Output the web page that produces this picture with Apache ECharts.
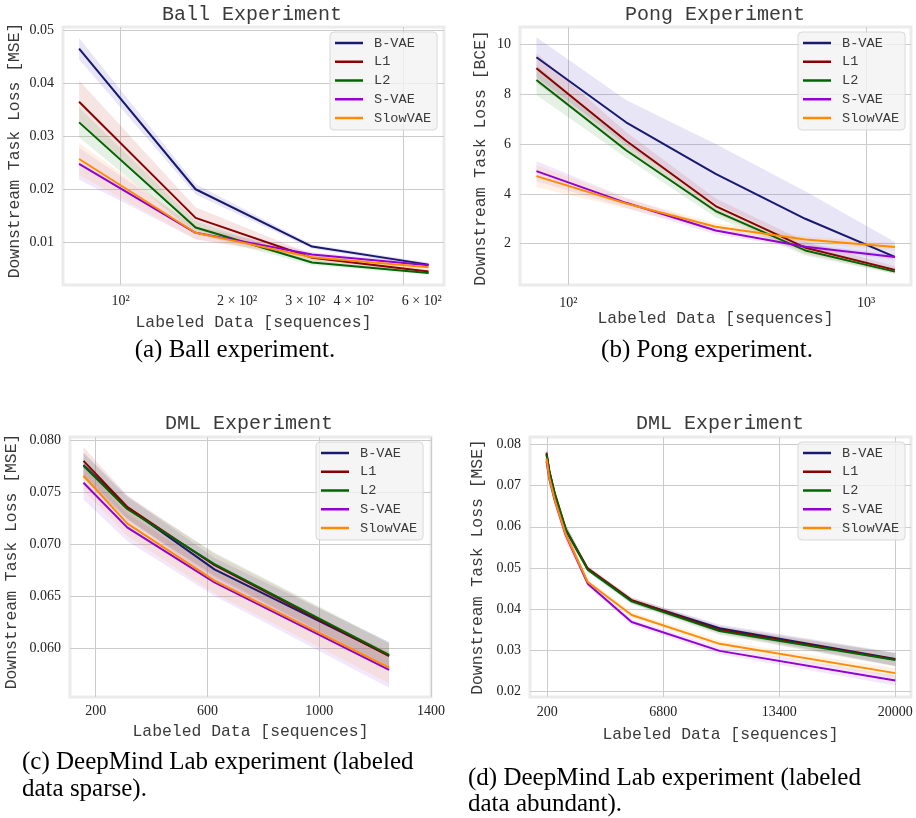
<!DOCTYPE html>
<html><head><meta charset="utf-8">
<script src="https://cdn.jsdelivr.net/npm/echarts@6/dist/echarts.min.js"></script>
<style>html,body{margin:0;padding:0;background:#fff}#c{width:916px;height:818px}</style>
</head><body><div id="c"></div>
<script>
// ---------- data ----------
const seriesNames = ['B-VAE', 'L1', 'L2', 'S-VAE', 'SlowVAE'];
const seriesColors = ['#191970', '#8b0000', '#006400', '#9400d3', '#ff8c00'];
const bandColors = ['#5b4fc4', '#c0392b', '#2e8b2e', '#a040e0', '#ff9a30'];
const bandAlphas = [0.15, 0.13, 0.12, 0.12, 0.13];

// (a) Ball experiment
const ballX = [78.125, 156.25, 312.5, 625];
const ballBVAE = [0.0465, 0.0200, 0.0092, 0.0058];
const ballL1 = [0.0365, 0.0146, 0.0071, 0.0045];
const ballL2 = [0.0326, 0.0128, 0.0062, 0.0042];
const ballSVAE = [0.0248, 0.0118, 0.0077, 0.0057];
const ballSlow = [0.0257, 0.0118, 0.0072, 0.0053];
const ballBVAEStd = [0.0020, 0.0010, 0.0004, 0.0004];
const ballL1Std = [0.0040, 0.0020, 0.0006, 0.0004];
const ballL2Std = [0.0028, 0.0012, 0.0005, 0.0003];
const ballSVAEStd = [0.0030, 0.0012, 0.0005, 0.0004];
const ballSlowStd = [0.0030, 0.0012, 0.0005, 0.0004];
const ballXLabels = [100, 200, 300, 400, 600];
const ballXGrid = [100, 537];
const ballYTicks = [0.01, 0.02, 0.03, 0.04, 0.05];

// (b) Pong experiment
const pongX = [78.125, 156.25, 312.5, 625, 1250];
const pongBVAE = [9.48, 6.87, 4.80, 3.00, 1.47];
const pongL1 = [9.04, 6.13, 3.51, 1.84, 0.95];
const pongL2 = [8.57, 5.75, 3.31, 1.73, 0.88];
const pongSVAE = [4.91, 3.64, 2.53, 1.88, 1.47];
const pongSlow = [4.71, 3.61, 2.68, 2.17, 1.87];
const pongBVAEStd = [0.8, 0.9, 1.2, 1.1, 0.6];
const pongL1Std = [0.6, 0.35, 0.3, 0.25, 0.15];
const pongL2Std = [0.6, 0.3, 0.25, 0.2, 0.1];
const pongSVAEStd = [0.4, 0.2, 0.15, 0.1, 0.1];
const pongSlowStd = [0.45, 0.2, 0.15, 0.12, 0.15];
const pongXLabels = [100, 1000];
const pongYTicks = [2, 4, 6, 8, 10];

// (c) DML sparse
const dmlsX = [156.25, 312.5, 625, 1250];
const dmlsBVAE = [0.0776, 0.07355, 0.0676, 0.05933];
const dmlsL1 = [0.0780, 0.0736, 0.0680, 0.0593];
const dmlsL2 = [0.07754, 0.07339, 0.06811, 0.0594];
const dmlsSVAE = [0.0759, 0.07163, 0.06636, 0.05796];
const dmlsSlow = [0.07658, 0.07201, 0.06652, 0.05818];
const dmlsBVAEStd = [0.0012, 0.0011, 0.0011, 0.0013];
const dmlsL1Std = [0.0013, 0.0011, 0.0011, 0.0012];
const dmlsL2Std = [0.0012, 0.0011, 0.0011, 0.0012];
const dmlsSVAEStd = [0.0016, 0.0013, 0.0013, 0.0017];
const dmlsSlowStd = [0.0014, 0.0012, 0.0012, 0.0015];
const dmlsXTicks = [200, 600, 1000, 1400];
const dmlsYTicks = [0.060, 0.065, 0.070, 0.075, 0.080];

// (d) DML abundant
const dmlaX = [156.25, 312.5, 625, 1250, 2500, 5000, 10000, 20000];
const dmlaBVAE = [0.0776, 0.07355, 0.0676, 0.0593, 0.0497, 0.0421, 0.0354, 0.0279];
const dmlaL1 = [0.0780, 0.0736, 0.0680, 0.0593, 0.0499, 0.0422, 0.0350, 0.0278];
const dmlaL2 = [0.07754, 0.07339, 0.06811, 0.0594, 0.0496, 0.0419, 0.0347, 0.0277];
const dmlaSVAE = [0.0759, 0.07163, 0.06636, 0.05796, 0.0462, 0.0369, 0.0299, 0.0227];
const dmlaSlow = [0.07658, 0.07201, 0.06652, 0.05818, 0.0466, 0.0386, 0.0316, 0.0245];
const dmlaBVAEStd = [0.0012, 0.0011, 0.0011, 0.0012, 0.0006, 0.0007, 0.0009, 0.0016];
const dmlaL1Std = [0.0012, 0.0011, 0.0011, 0.0012, 0.0006, 0.0007, 0.0009, 0.0016];
const dmlaL2Std = [0.0012, 0.0011, 0.0011, 0.0012, 0.0006, 0.0007, 0.0009, 0.0016];
const dmlaSVAEStd = [0.0016, 0.0013, 0.0013, 0.0016, 0.0006, 0.0007, 0.0008, 0.0012];
const dmlaSlowStd = [0.0014, 0.0012, 0.0012, 0.0015, 0.0006, 0.0007, 0.0008, 0.0012];
const dmlaXTicks = [200, 6800, 13400, 20000];
const dmlaYTicks = [0.02, 0.03, 0.04, 0.05, 0.06, 0.07, 0.08];

// ---------- chart ----------
const MONO = '"Liberation Mono", "DejaVu Sans Mono", monospace';
const SERIF = '"Liberation Serif", "DejaVu Serif", serif';
const TXT = '#3a3a3a';

function rgba(hex, a) {
  const n = parseInt(hex.slice(1), 16);
  return 'rgba(' + (n >> 16 & 255) + ',' + (n >> 8 & 255) + ',' + (n & 255) + ',' + a + ')';
}
const logLabelMap = {100: '10\u00b2', 200: '2 \u00d7 10\u00b2', 300: '3 \u00d7 10\u00b2', 400: '4 \u00d7 10\u00b2', 600: '6 \u00d7 10\u00b2', 1000: '10\u00b3'};
function logFmt(v) { const r = Math.round(v); return logLabelMap[r] || ''; }

const grids = [
  {left: 63, top: 27, width: 381, height: 258},
  {left: 520, top: 27, width: 391, height: 258},
  {left: 70, top: 437, width: 361, height: 260},
  {left: 530, top: 437, width: 381, height: 260}
].map(g => Object.assign(g, {show: true, borderColor: '#ebebeb', borderWidth: 3, backgroundColor: '#ffffff', containLabel: false}));

function xAxis(gi, type, min, max, labelVals, tickVals, fmt, nameGap, margin) {
  return {
    gridIndex: gi, type: type, min: min, max: max, logBase: 10,
    name: 'Labeled Data [sequences]', nameLocation: 'middle', nameGap: nameGap,
    nameTextStyle: {fontFamily: MONO, fontSize: 16.4, color: TXT},
    axisLine: {show: false},
    axisTick: {show: false, customValues: tickVals},
    axisLabel: {customValues: labelVals, formatter: fmt, fontFamily: SERIF, fontSize: 14, color: '#222', margin: margin},
    splitLine: {show: true, lineStyle: {color: '#cccccc', width: 1}}
  };
}
function yAxis(gi, min, max, ticks, digits, unit, nameGap, namePad) {
  return {
    gridIndex: gi, type: 'value', min: min, max: max,
    name: 'Downstream Task Loss [' + unit + ']', nameLocation: 'middle', nameGap: nameGap,
    nameTextStyle: {fontFamily: MONO, fontSize: 16.4, color: TXT, padding: namePad},
    axisLine: {show: false},
    axisTick: {show: false, customValues: ticks},
    axisLabel: {customValues: ticks, formatter: v => v.toFixed(digits), fontFamily: SERIF, fontSize: 14, color: '#222', margin: 9},
    splitLine: {show: true, lineStyle: {color: '#cccccc', width: 1}}
  };
}

const xAxes = [
  xAxis(0, 'log', 71, 685, ballXLabels, ballXGrid, logFmt, 30, 9),
  xAxis(1, 'log', 68.8, 1416, pongXLabels, pongXLabels, logFmt, 26, 11),
  xAxis(2, 'value', 108, 1400, dmlsXTicks, dmlsXTicks, v => String(v), 27, 7),
  xAxis(3, 'value', -784, 20893, dmlaXTicks, dmlaXTicks, v => String(v), 30, 8)
];
const yAxes = [
  yAxis(0, 0.00196, 0.05057, ballYTicks, 2, 'MSE', 40, [0, 0, 0, 11]),
  yAxis(1, 0.343, 10.694, pongYTicks, 0, 'BCE', 31, [0, 4, 0, 0]),
  yAxis(2, 0.05537, 0.08029, dmlsYTicks, 3, 'MSE', 50, [0, 0, 0, 11]),
  yAxis(3, 0.01871, 0.08177, dmlaYTicks, 2, 'MSE', 44, [0, 0, 0, 0])
];

const panels = [
  {x: ballX, means: [ballBVAE, ballL1, ballL2, ballSVAE, ballSlow], stds: [ballBVAEStd, ballL1Std, ballL2Std, ballSVAEStd, ballSlowStd]},
  {x: pongX, means: [pongBVAE, pongL1, pongL2, pongSVAE, pongSlow], stds: [pongBVAEStd, pongL1Std, pongL2Std, pongSVAEStd, pongSlowStd]},
  {x: dmlsX, means: [dmlsBVAE, dmlsL1, dmlsL2, dmlsSVAE, dmlsSlow], stds: [dmlsBVAEStd, dmlsL1Std, dmlsL2Std, dmlsSVAEStd, dmlsSlowStd]},
  {x: dmlaX, means: [dmlaBVAE, dmlaL1, dmlaL2, dmlaSVAE, dmlaSlow], stds: [dmlaBVAEStd, dmlaL1Std, dmlaL2Std, dmlaSVAEStd, dmlaSlowStd]}
];

const series = [];
panels.forEach((p, gi) => {
  p.means.forEach((m, k) => {
    const s = p.stds[k];
    const fill = rgba(bandColors[k], bandAlphas[k]);
    series.push({
      type: 'custom', xAxisIndex: gi, yAxisIndex: gi, silent: true, z: 1, clip: true,
      data: p.x.map((x, i) => [x, m[i] - s[i], m[i] + s[i]]),
      encode: {x: 0, y: [1, 2]},
      renderItem: function (params, api) {
        if (params.dataIndexInside !== 0) return null;
        const n = params.dataInsideLength;
        const up = [], lo = [];
        for (let i = 0; i < n; i++) {
          up.push(api.coord([api.value(0, i), api.value(2, i)]));
          lo.push(api.coord([api.value(0, i), api.value(1, i)]));
        }
        return {type: 'polygon', shape: {points: up.concat(lo.reverse())}, style: {fill: fill, stroke: null}};
      }
    });
  });
  p.means.forEach((m, k) => {
    series.push({
      type: 'line', name: seriesNames[k], xAxisIndex: gi, yAxisIndex: gi, z: 3,
      data: p.x.map((x, i) => [x, m[i]]),
      symbol: 'none', showSymbol: false,
      lineStyle: {color: seriesColors[k], width: 2},
      itemStyle: {color: seriesColors[k]}
    });
  });
});

function legendAt(left, top) {
  return {
    left: left, top: top, orient: 'vertical', data: seriesNames, icon: 'rect',
    itemWidth: 28, itemHeight: 2.5, itemGap: 4.75, padding: [4, 6, 5, 5],
    backgroundColor: 'rgba(242,242,242,0.8)', borderColor: '#d9d9d9', borderWidth: 1, borderRadius: 4,
    textStyle: {fontFamily: MONO, fontSize: 13.6, color: TXT, lineHeight: 14, padding: [0, 0, 0, 6]},
    selectedMode: false, z: 10
  };
}

function txt(text, x, y, font, color, align) {
  return {type: 'text', x: x, y: y, z: 20, silent: true,
    style: {text: text, font: font, fill: color, textAlign: align || 'center', align: align || 'center', textVerticalAlign: 'middle', verticalAlign: 'middle'}};
}
const TITLE_FONT = '20px ' + MONO;
const CAP_FONT = '25px ' + SERIF;

const option = {
  animation: false,
  backgroundColor: '#ffffff',
  grid: grids,
  xAxis: xAxes,
  yAxis: yAxes,
  legend: [legendAt(330, 32), legendAt(798, 32), legendAt(316, 442), legendAt(798, 442)],
  series: series,
  graphic: [
    txt('Ball Experiment', 252, 15, TITLE_FONT, TXT),
    txt('Pong Experiment', 715, 15, TITLE_FONT, TXT),
    txt('DML Experiment', 249, 424, TITLE_FONT, TXT),
    txt('DML Experiment', 720, 424, TITLE_FONT, TXT),
    txt('(a) Ball experiment.', 235, 350, CAP_FONT, '#000'),
    txt('(b) Pong experiment.', 707, 350, CAP_FONT, '#000'),
    txt('(c) DeepMind Lab experiment (labeled', 22, 762, CAP_FONT, '#000', 'left'),
    txt('data sparse).', 22, 789, CAP_FONT, '#000', 'left'),
    txt('(d) DeepMind Lab experiment (labeled', 468, 778, CAP_FONT, '#000', 'left'),
    txt('data abundant).', 468, 804, CAP_FONT, '#000', 'left')
  ]
};
const chart = echarts.init(document.getElementById('c'), null, {renderer: 'canvas', width: 916, height: 818});
chart.setOption(option);
</script>
</body></html>
